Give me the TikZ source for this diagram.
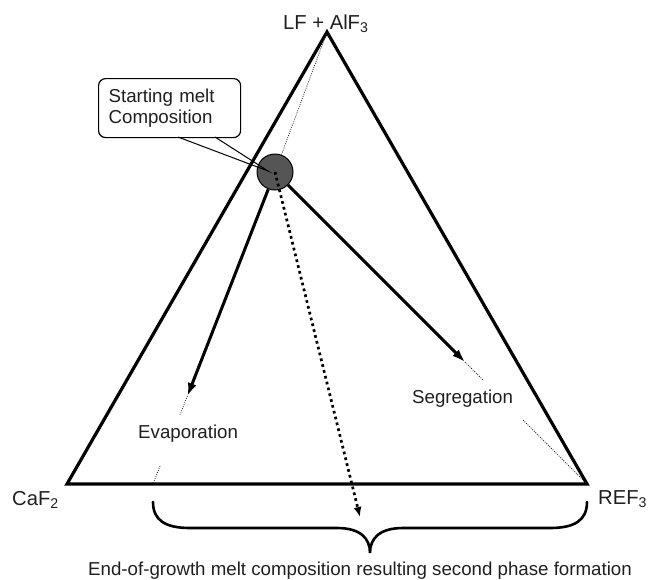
\documentclass[tikz,border=0pt]{standalone}
\usepackage{fontspec}
\setmainfont{Liberation Sans}
\usetikzlibrary{arrows.meta,calc}
\definecolor{meltgray}{RGB}{85,85,85}
\begin{document}
\begin{tikzpicture}[x=1pt,y=-1pt,
  lbl/.style={font=\fontsize{18.7}{21}\selectfont, inner sep=0pt, text=black!88},
  vlbl/.style={font=\fontsize{20.2}{23}\selectfont, inner sep=0pt, text=black!88},
  edge/.style={line width=3.2pt, line join=miter},
  solidarrow/.style={line width=3pt, -{Latex[length=13pt,width=9pt]}},
  dotarrow/.style={line width=2.7pt, dash pattern=on 2.7pt off 3.3pt, -{Latex[length=10pt,width=8pt]}},
  thindot/.style={line width=0.8pt, dash pattern=on 0.9pt off 1.3pt, black!85},
  bracestyle/.style={line width=2.6pt, line cap=round}]
\useasboundingbox (0,0) rectangle (650,579);

% vertices
\coordinate (A) at (327,32);
\coordinate (B) at (67,484);
\coordinate (C) at (587,484);
\coordinate (evbase) at (153,484);
\coordinate (dtip) at (360,517);

% triangle
\draw[edge] (A) -- (B) -- (C) -- cycle;

% vertex labels
\node[vlbl, anchor=base west] (lA) at (283,29) {LF + AlF\textsubscript{3}};
\node[vlbl, anchor=base west] (lB) at (12,505) {CaF\textsubscript{2}};
\node[vlbl, anchor=base west] (lC) at (598,504) {REF\textsubscript{3}};

% starting melt
\node[circle, draw, line width=1pt, fill=meltgray, minimum size=36pt, inner sep=0pt] (melt) at (275,172) {};

% thin dotted line from apex to melt
\draw[thindot] (A) -- (melt);

% evaporation path
\coordinate (evtip) at ($(melt.center)!0.718!(evbase)$);
\coordinate (evd1) at ($(melt.center)!0.779!(evbase)$);
\coordinate (evd2) at ($(melt.center)!0.942!(evbase)$);
\draw[solidarrow] (melt) -- (evtip);
\draw[thindot] (evtip) -- (evd1);
\draw[thindot] (evd2) -- (evbase);

% segregation path
\coordinate (sgtip) at ($(melt.center)!0.609!(C)$);
\coordinate (sgd1) at ($(melt.center)!0.667!(C)$);
\coordinate (sgd2) at ($(melt.center)!0.795!(C)$);
\draw[solidarrow] (melt) -- (sgtip);
\draw[thindot] (sgtip) -- (sgd1);
\draw[thindot] (sgd2) -- (C);

% dotted arrow
\draw[dotarrow] (melt.center) -- (dtip);

% labels
\node[lbl, anchor=base west] (evap) at (138,438) {Evaporation};
\node[lbl, anchor=base west] (segr) at (412,403) {Segregation};

% callout
\node[draw, line width=1.2pt, rounded corners=7pt, fill=white, anchor=north west,
      minimum width=142pt, minimum height=59pt, text width=122pt, inner xsep=10pt, inner ysep=0pt,
      align=left, font=\fontsize{18.7}{21}\selectfont, text=black!88] (callout) at (98,78)
      {Starting melt\\Composition};
\coordinate (wl) at (178,137);
\coordinate (wr) at (215,137);
\coordinate (wt) at (268,171);
\draw[line width=1pt] (wl) -- (wt) -- (wr);

% brace
\draw[bracestyle] (evbase |- 0,502) .. controls (153,520) and (165,528) .. (190,528)
  -- (337,528) .. controls (360,528) and (370,538) .. (370,553)
  .. controls (370,538) and (380,528) .. (403,528)
  -- (550,528) .. controls (575,528) and (587,520) .. (587,502);

\node[lbl, anchor=base] (bottom) at (360,575) {End-of-growth melt composition resulting second phase formation};
\end{tikzpicture}
\end{document}
